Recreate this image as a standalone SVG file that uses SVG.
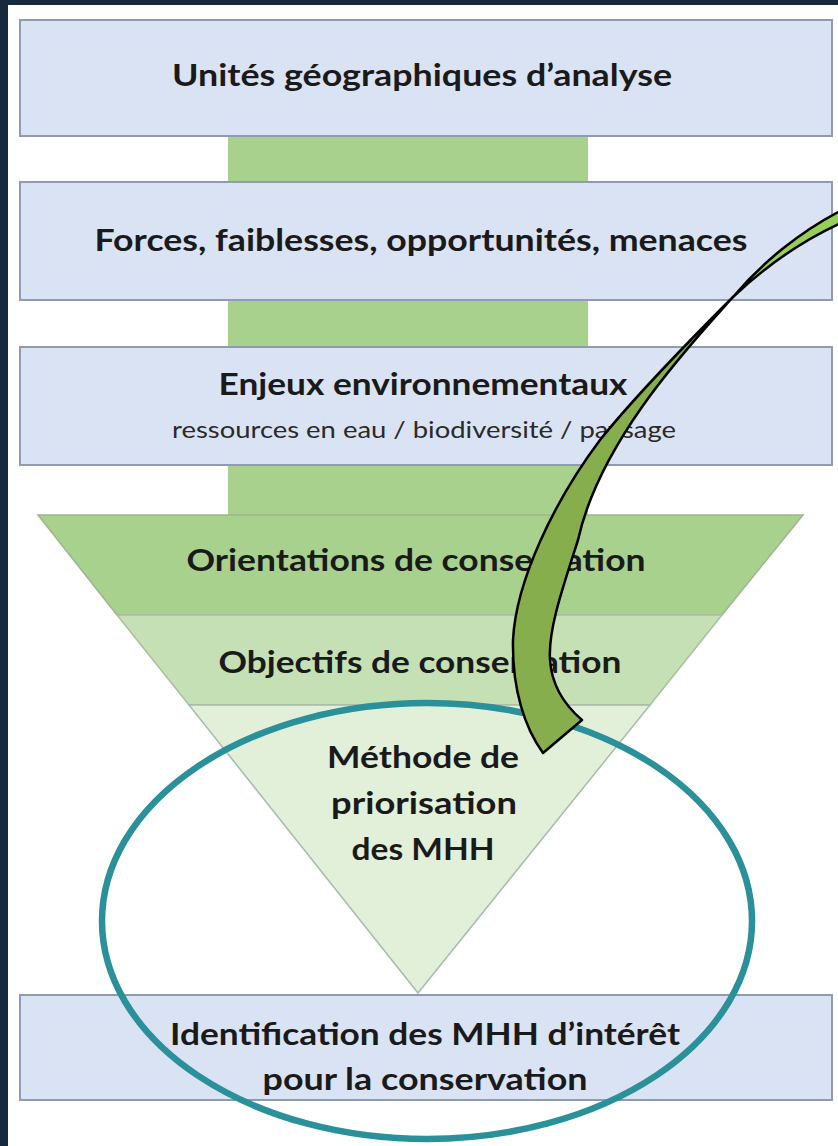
<svg xmlns="http://www.w3.org/2000/svg" width="838" height="1146" viewBox="0 0 838 1146">
<style>
.box{fill:#dae3f3;stroke:#8e9bb0;stroke-width:2}
.link{fill:#a9d18e}
.t{font-family:Lato,"Open Sans","Liberation Sans",sans-serif;font-weight:bold;fill:#1a1a1a;text-anchor:middle;font-size:31px}
.s{font-family:Lato,"Open Sans","Liberation Sans",sans-serif;font-weight:normal;fill:#2a2a2a;text-anchor:middle;font-size:23px}
.arrow{stroke:#000;stroke-width:2.5;stroke-linejoin:round}
</style>
<rect x="0" y="0" width="838" height="1146" fill="#172a3d"/>
<rect x="8" y="5" width="830" height="1141" fill="#ffffff"/>
<g id="connectors">
<rect class="link" x="228" y="136" width="360" height="46"/>
<rect class="link" x="228" y="300" width="360" height="47"/>
<rect class="link" x="228" y="465" width="360" height="51"/>
</g>
<g id="n1">
<rect class="box" x="20" y="20" width="812" height="116"/>
<text class="t" x="422" y="86" textLength="500" lengthAdjust="spacingAndGlyphs">Unités géographiques d’analyse</text>
</g>
<g id="n2">
<rect class="box" x="20" y="182" width="812" height="118"/>
<text class="t" x="421" y="251" textLength="653" lengthAdjust="spacingAndGlyphs">Forces, faiblesses, opportunités, menaces</text>
</g>
<g id="n3">
<rect class="box" x="20" y="347" width="812" height="118"/>
<text class="t" x="423" y="395" textLength="409" lengthAdjust="spacingAndGlyphs">Enjeux environnementaux</text>
<text class="s" x="424" y="438" textLength="504" lengthAdjust="spacingAndGlyphs">ressources en eau / biodiversité / paysage</text>
</g>
<g id="n4">
<polygon points="38,515 803,515 722,615 117,615" fill="#a9d18e" stroke="#9db48f" stroke-width="1.5"/>
<text class="t" x="416" y="571" textLength="459" lengthAdjust="spacingAndGlyphs">Orientations de conservation</text>
</g>
<g id="n5">
<polygon points="117,615 722,615 650,705 189,705" fill="#c5e0b4" stroke="#a9bfa0" stroke-width="1.5"/>
<text class="t" x="420" y="673" textLength="403" lengthAdjust="spacingAndGlyphs">Objectifs de conservation</text>
</g>
<g id="n6">
<polygon points="189,705 650,705 418,993" fill="#e2efd9" stroke="#a8bcaa" stroke-width="1.5"/>
<text class="t" x="423" y="768" textLength="192" lengthAdjust="spacingAndGlyphs">Méthode de</text>
<text class="t" x="424" y="814" textLength="186" lengthAdjust="spacingAndGlyphs">priorisation</text>
<text class="t" x="423" y="860" textLength="143" lengthAdjust="spacingAndGlyphs">des MHH</text>
</g>
<g id="n7">
<rect class="box" x="20" y="995" width="812" height="105"/>
<text class="t" x="425" y="1045" textLength="510" lengthAdjust="spacingAndGlyphs">Identification des MHH d’intérêt</text>
<text class="t" x="425" y="1090" textLength="325" lengthAdjust="spacingAndGlyphs">pour la conservation</text>
</g>
<g id="highlight">
<ellipse cx="427" cy="921" rx="325" ry="218" fill="none" stroke="#2a9099" stroke-width="6.5"/>
</g>
<g id="curved-arrow">
<path class="arrow" fill="#95cf55" d="M 733,297 C 760,265 800,230 850,206 L 850,219 C 810,236 770,262 733,297 Z"/>
<path class="arrow" fill="#86ae4c" d="M 733,297 C 690,345 600,440 578,540 C 562,590 548,630 550,660 C 552,690 568,708 582,720 L 543,753 C 525,728 512,690 513,640 C 516,580 555,500 600,440 C 640,390 700,330 733,297 Z"/>
</g>
</svg>
